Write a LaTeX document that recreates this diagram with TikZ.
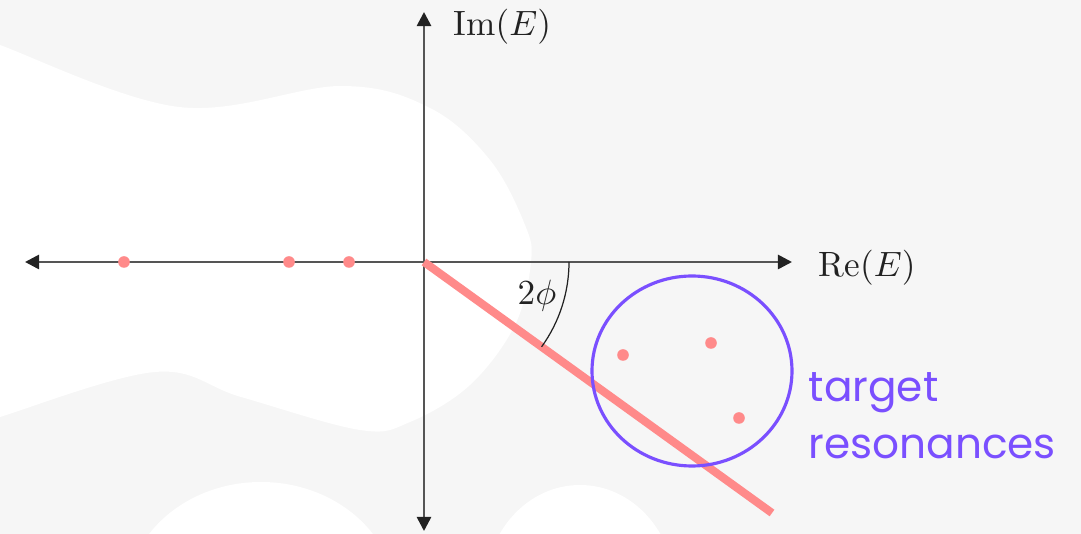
\documentclass[tikz,border=0pt]{standalone}
\usepackage{fontspec}
\newfontfamily\labelfont{Poppins}
\usetikzlibrary{arrows.meta,positioning,calc}
\definecolor{bggray}{HTML}{F6F6F6}
\definecolor{axisgray}{HTML}{555555}
\definecolor{tipblack}{HTML}{222222}
\definecolor{polered}{HTML}{FF8A8A}
\definecolor{violet}{HTML}{7A4FFF}
\tikzset{
  axis/.style={line width=0.75pt, draw=axisgray, {Triangle[length=4pt, width=4pt, color=tipblack]}-{Triangle[length=4pt, width=4pt, color=tipblack]}},
  pole/.style={circle, fill=polered, inner sep=0pt, minimum size=3.3pt},
  cutline/.style={line width=2.3pt, draw=polered},
  target/.style={line width=0.9pt, draw=violet},
  axislabel/.style={font=\fontsize{10}{12}\selectfont, text=tipblack, inner sep=0pt}
}
\begin{document}
\begin{tikzpicture}[x=0.01cm, y=-0.01cm]
  \useasboundingbox (0,0) rectangle (1081,534);
  \clip (0,0) rectangle (1081,534);
  % background
  \fill[bggray] (0,0) rectangle (1081,534);
  \fill[white] plot[smooth, tension=0.6] coordinates {(-20,35) (0,45) (179,107) (341,86) (430,108) (490,160) (525,225) (531,262) (515,325) (470,385) (410,422) (360,430) (241,397) (155,372) (0,417) (-20,425)} -- cycle;
  \fill[white] (261,600) ellipse[x radius=135, y radius=118];
  \fill[white] (580,590) ellipse[x radius=95, y radius=105];

  % axes
  \coordinate (O) at (424,262);
  \coordinate (west) at (25,262);
  \coordinate (east) at (792,262);
  \coordinate (north) at (424,12);
  \coordinate (south) at (424,531);
  \draw[axis] (west) -- (east);
  \draw[axis] (south) -- (north);
  \node[axislabel, anchor=west] (re) at (818,268) {$\mathrm{Re}(E)$};
  \node[axislabel, anchor=west] (im) at (453,27) {$\mathrm{Im}(E)$};

  % rotated contour
  \coordinate (cutend) at (772,513);
  \draw[cutline] (O) -- (cutend);
  \draw[line width=0.35pt, tipblack] ($(O)+(145,0)$) arc[start angle=0, end angle=35.8, radius=145];
  \node[axislabel] (ang) at (537,296) {$2\phi$};

  % poles on the real axis
  \foreach \px [count=\i] in {124,289,349}
    \node[pole] (b\i) at (\px,262) {};

  % resonances
  \node[pole] (r1) at (623,355) {};
  \node[pole] (r2) at (711,343) {};
  \node[pole] (r3) at (739,418) {};
  \draw[target] (692,371) ellipse[x radius=100, y radius=95];
  \node[anchor=north west, align=left, inner sep=0pt, text=violet,
        font=\labelfont\fontsize{12}{16.2}\selectfont] (lbl) at (808,372) {target\\resonances};
\end{tikzpicture}
\end{document}
